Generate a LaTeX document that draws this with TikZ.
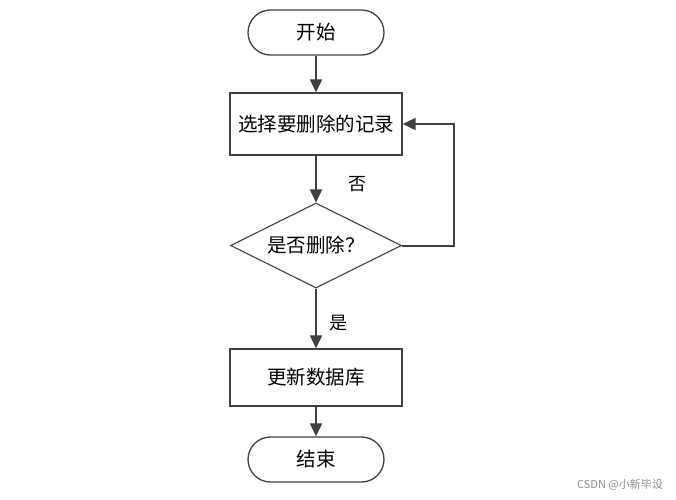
\documentclass[tikz,border=0pt]{standalone}
\usepackage{fontspec}
\newfontfamily\cjk{Noto Sans CJK SC}
\usetikzlibrary{shapes.geometric,arrows.meta}
\definecolor{ln}{HTML}{404040}
\begin{document}
\begin{tikzpicture}[x=1pt,y=-1pt,
  every node/.style={font=\cjk\fontsize{19.5}{22}\selectfont, text=black},
  term/.style={draw=ln, line width=1.3pt, rounded corners=22.5pt, minimum width=136pt, minimum height=45pt, inner sep=0pt},
  proc/.style={draw=ln, line width=1.3pt, minimum width=172pt, minimum height=62pt, inner sep=0pt},
  dec/.style={draw=ln, line width=1.1pt, diamond, aspect=2, minimum width=171pt, minimum height=85pt, inner sep=0pt},
  flow/.style={draw=ln, line width=2pt, -{Triangle[length=13pt,width=12pt]}},
  lbl/.style={font=\cjk\fontsize{18}{20}\selectfont}
]
\useasboundingbox (0,0) rectangle (676,499);
\node[term] (start) at (316,32.5) {开始};
\node[proc] (sel) at (316,124) {选择要删除的记录};
\node[dec] (q) at (316,245.5) {是否删除？};
\node[proc, minimum height=57pt] (upd) at (316,377.5) {更新数据库};
\node[term] (end) at (316,459.5) {结束};
\coordinate (c1) at (454,245.5);
\coordinate (c2) at (454,124);
\draw[flow] (start) -- (sel);
\draw[flow] (sel) -- (q);
\draw[flow] (q) -- (upd);
\draw[flow] (upd) -- (end);
\draw[flow] (q.east) -- (c1) -- (c2) -- (sel.east);
\node[lbl] (no) at (357,184) {否};
\node[lbl] (yes) at (338,323) {是};
\node[font=\cjk\fontsize{11}{13}\selectfont, text=black!45] (wm) at (620,485) {CSDN @小新毕设};
\end{tikzpicture}
\end{document}
